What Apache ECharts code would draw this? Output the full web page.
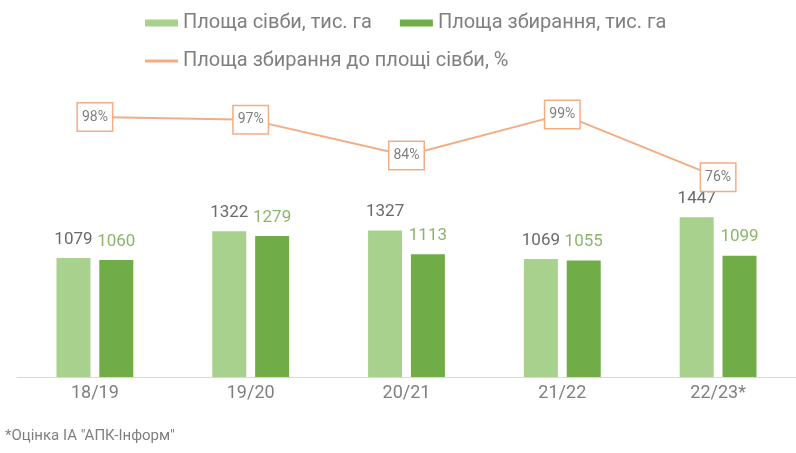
<!DOCTYPE html>
<html>
<head>
<meta charset="utf-8">
<script src="https://cdn.jsdelivr.net/npm/echarts@6/dist/echarts.min.js"></script>
<style>
  html, body { margin: 0; padding: 0; background: #ffffff; }
  #chart { width: 796px; height: 453px; }
</style>
</head>
<body>
<div id="chart"></div>
<script>
// Marketing years
const categories = ['18/19', '19/20', '20/21', '21/22', '22/23*'];
// Sown area, thousand ha
const sownArea = [1079, 1322, 1327, 1069, 1447];
// Harvested area, thousand ha
const harvestedArea = [1060, 1279, 1113, 1055, 1099];
// Harvested area as a share of sown area, %
const harvestShare = [98, 97, 84, 99, 76];

const FONT = '"Liberation Sans Narrow", "Roboto", "Liberation Sans", sans-serif';
const LIGHT = '#a9d18e';
const DARK = '#70ad47';
const ORANGE = '#f2ad84';
const GREY = '#7f7f7f';

const chart = echarts.init(document.getElementById('chart'));
chart.setOption({
  animation: false,
  textStyle: { fontFamily: FONT },
  legend: [
    {
      data: ['Площа сівби, тис. га', 'Площа збирання, тис. га'],
      left: 140, top: 8,
      icon: 'rect', itemWidth: 33, itemHeight: 7, itemGap: 28,
      textStyle: { color: GREY, fontSize: 20, fontFamily: FONT }
    },
    {
      data: ['Площа збирання до площі сівби, %'],
      left: 140, top: 46,
      icon: 'rect', itemWidth: 33, itemHeight: 3,
      textStyle: { color: GREY, fontSize: 20, fontFamily: FONT }
    }
  ],
  grid: { left: 17, right: -4, top: 46, bottom: 76 },
  xAxis: {
    type: 'category',
    data: categories,
    axisTick: { show: false },
    axisLine: { lineStyle: { color: '#d9d9d9', width: 1 } },
    axisLabel: { color: GREY, fontSize: 18, margin: 7, fontFamily: FONT }
  },
  yAxis: [
    { type: 'value', min: 0, max: 3000, show: false, splitLine: { show: false } },
    { type: 'value', min: 3, max: 124, show: false, splitLine: { show: false } }
  ],
  series: [
    {
      name: 'Площа сівби, тис. га',
      type: 'bar',
      data: sownArea,
      barWidth: 34,
      barGap: '26%',
      itemStyle: { color: LIGHT },
      label: {
        show: true, position: 'top', distance: 10,
        color: '#6a6a6a', fontSize: 17, fontFamily: FONT
      }
    },
    {
      name: 'Площа збирання, тис. га',
      type: 'bar',
      data: harvestedArea,
      barWidth: 34,
      itemStyle: { color: DARK },
      label: {
        show: true, position: 'top', distance: 10,
        color: '#8db56a', fontSize: 17, fontFamily: FONT
      }
    },
    {
      name: 'Площа збирання до площі сівби, %',
      type: 'line',
      yAxisIndex: 1,
      data: harvestShare,
      symbol: 'circle',
      symbolSize: 2,
      lineStyle: { color: ORANGE, width: 2 },
      itemStyle: { color: ORANGE },
      label: {
        show: true,
        position: 'inside',
        formatter: '{c}%',
        color: GREY,
        fontSize: 14,
        fontFamily: FONT,
        backgroundColor: '#ffffff',
        borderColor: ORANGE,
        borderWidth: 1.5,
        padding: [7, 4, 6, 4]
      }
    }
  ],
  graphic: [
    {
      type: 'text',
      left: 5, top: 429,
      style: {
        text: '*Оцінка ІА "АПК-Інформ"',
        fill: GREY,
        font: '15px ' + FONT
      }
    }
  ]
});
</script>
</body>
</html>
